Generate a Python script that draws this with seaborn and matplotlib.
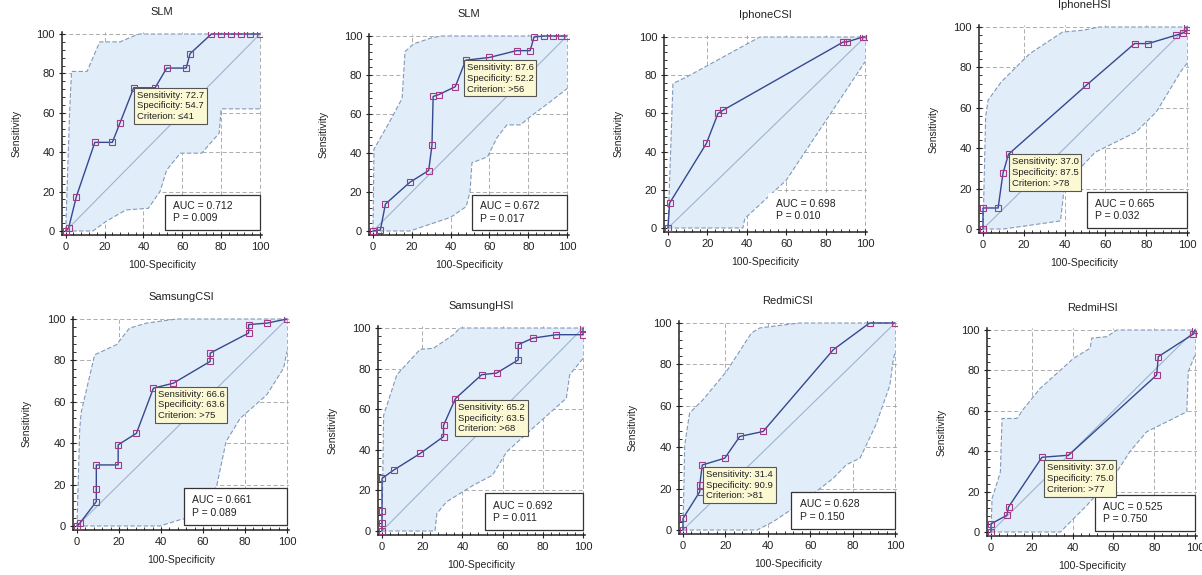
import numpy as np
import pandas as pd
import matplotlib
matplotlib.use("Agg")
import matplotlib.pyplot as plt
import seaborn as sns
from matplotlib.ticker import MultipleLocator
from matplotlib.patches import Rectangle

sns.set_style("white")
plt.rcParams['font.family'] = ['Liberation Sans', 'DejaVu Sans']

# ---------------- data ----------------
titles = ["SLM", "SLM", "IphoneCSI", "IphoneHSI",
          "SamsungCSI", "SamsungHSI", "RedmiCSI", "RedmiHSI"]

auc_values = ["0.712", "0.672", "0.698", "0.665", "0.661", "0.692", "0.628", "0.525"]
p_values = ["0.009", "0.017", "0.010", "0.032", "0.089", "0.011", "0.150", "0.750"]

# ROC curves (x = 100-Specificity, y = Sensitivity)
roc1_x = [0, 1.5, 5.5, 15, 24, 28, 35, 46, 52, 62, 64, 75, 80, 85, 90, 95, 100]
roc1_y = [0, 1.5, 17.5, 45, 45, 55, 72.7, 72.7, 82.7, 82.7, 90, 100, 100, 100, 100, 100, 100]
roc2_x = [0, 3.8, 6.4, 19, 28.7, 30.4, 31, 34, 42.4, 47.8, 60, 74, 81, 83, 88, 93, 97, 100]
roc2_y = [0, 0.5, 13.8, 25, 31, 44, 69, 70, 74, 87.6, 89, 92.5, 92.5, 99.5, 100, 100, 100, 100]
roc3_x = [0, 0.8, 19.5, 25.4, 28, 89, 90.7, 99, 100]
roc3_y = [0, 13, 44.3, 60, 61.7, 97.4, 97.4, 100, 100]
roc4_x = [0, 0, 7.4, 9.8, 12.5, 50.7, 74.3, 81, 94.8, 98, 100, 100]
roc4_y = [0, 10.4, 10.4, 27.6, 37, 71.2, 91.8, 91.8, 96, 97, 98.5, 100]
roc5_x = [0, 1.3, 9.2, 9.2, 9.2, 19.6, 19.6, 28.3, 36.4, 45.9, 63.4, 63.4, 81.7, 81.7, 90.4, 100]
roc5_y = [0, 1.3, 11.8, 18, 29.5, 29.5, 39.2, 44.8, 66.6, 69, 79.5, 83.5, 93.2, 97.3, 98, 100]
roc6_x = [0, 0, 0, 0, 5.8, 19, 30.6, 30.6, 36.5, 49.6, 57, 67.8, 67.8, 75, 86.8, 100, 100]
roc6_y = [0, 4, 10, 25.9, 30, 38.2, 46.5, 52, 65.2, 77, 77.8, 84.3, 91.8, 95, 96.7, 96.7, 100]
roc7_x = [0, 0, 7.9, 7.9, 9.1, 19.7, 26.8, 37.8, 70.9, 88, 100]
roc7_y = [0, 5.6, 18.5, 21.8, 31.4, 34.7, 45.2, 47.6, 87.1, 100, 100]
roc8_x = [0, 0, 7.8, 8.6, 25, 38, 81.2, 82, 99.2, 100]
roc8_y = [0, 4, 8.3, 12.4, 37, 38, 77.7, 86.8, 98, 100]

# Confidence bands
upper1_x = [0, 2, 3, 11, 17.5, 28, 35, 38, 100]
upper1_y = [0, 60, 81, 81, 96, 96, 99, 100, 100]
lower1_x = [0, 14, 21, 31, 42.5, 48.5, 52, 59, 70, 79, 80, 91, 100]
lower1_y = [0, 0, 5, 10.7, 11.5, 20, 31, 39.5, 39.5, 49.7, 62, 62, 62]
upper2_x = [0, 0.5, 8, 15, 16.5, 21, 30, 35, 100]
upper2_y = [0, 42, 55, 68, 92, 96, 99, 100, 100]
lower2_x = [0, 19, 28, 40, 48, 50, 51, 59, 64, 69, 76, 81, 91, 100]
lower2_y = [0, 0, 3, 7, 12.5, 20, 35, 38, 48, 54.4, 54.4, 58.6, 66, 73]
upper3_x = [0, 2.5, 6, 9.3, 46.6, 100]
upper3_y = [0, 75.6, 77.4, 79, 100, 100]
lower3_x = [0, 38, 39, 60, 100]
lower3_y = [0, 0, 5, 25, 87]
upper4_x = [0, 1.3, 2.5, 9, 22.9, 39, 49, 57, 100]
upper4_y = [0, 55.6, 63.8, 72.9, 86.8, 97.5, 98.4, 100, 100]
lower4_x = [0, 10, 38, 40, 55, 75, 85, 97, 100]
lower4_y = [0, 0, 4, 22, 38, 48, 58, 78, 82]
upper5_x = [0, 1.3, 2, 8.4, 18.8, 25, 33, 47.5, 100]
upper5_y = [0, 47, 55, 82.7, 87.6, 95.6, 98, 100, 100]
lower5_x = [0, 39.5, 49, 60, 66.6, 71, 77.7, 90.4, 98.4, 100]
lower5_y = [0, 0, 3, 5.3, 19.8, 40.8, 52, 63.4, 76.3, 84.4]
upper6_x = [0, 0.8, 7.4, 19, 25.6, 35.5, 38.8, 100]
upper6_y = [0, 57, 77, 89.5, 90, 96.7, 100, 100]
lower6_x = [0, 26.4, 27.3, 32, 45.5, 55, 62, 75, 91.7, 93.4, 100]
lower6_y = [0, 0, 8.6, 14.3, 22.6, 27.5, 39, 50.6, 65.4, 77, 85]
upper7_x = [0, 0.8, 3.1, 9.4, 20.5, 32.3, 36.2, 47, 55, 100]
upper7_y = [0, 41, 56.5, 62.9, 76.6, 95.2, 97.6, 99, 100, 100]
lower7_x = [0, 35, 42.5, 56.7, 70.9, 77, 83.5, 91, 97.6, 99, 100]
lower7_y = [0, 0, 4, 13.7, 25, 31.5, 34.7, 50.8, 70, 81, 86]
upper8_x = [0, 0.5, 4.6, 5.4, 12.7, 16, 24, 40.5, 48.6, 49.4, 56.8, 61.7, 100]
upper8_y = [0, 16.5, 29.7, 56.2, 56.2, 61, 71, 86, 91, 96, 96.7, 100, 100]
lower8_x = [0, 34, 47, 61.7, 68, 76.3, 96, 96.7, 100]
lower8_y = [0, 0, 13.2, 29.8, 39.7, 49.6, 59.5, 79.3, 87.6]

# Optimal criterion points and their labels (None = no box)
crit_x = [35, 46.7, None, 12.5, 37, 36.4, 9.4, 25.8]
crit_y = [72.7, 87.6, None, 37.0, 67.4, 64.6, 30.6, 35.5]
crit_sens = ["72.7", "87.6", None, "37.0", "66.6", "65.2", "31.4", "37.0"]
crit_spec = ["54.7", "52.2", None, "87.5", "63.6", "63.5", "90.9", "75.0"]
crit_crit = ["\u226441", ">56", None, ">78", ">75", ">68", ">81", ">77"]

rocs = [(roc1_x, roc1_y), (roc2_x, roc2_y), (roc3_x, roc3_y), (roc4_x, roc4_y),
        (roc5_x, roc5_y), (roc6_x, roc6_y), (roc7_x, roc7_y), (roc8_x, roc8_y)]
uppers = [(upper1_x, upper1_y), (upper2_x, upper2_y), (upper3_x, upper3_y), (upper4_x, upper4_y),
          (upper5_x, upper5_y), (upper6_x, upper6_y), (upper7_x, upper7_y), (upper8_x, upper8_y)]
lowers = [(lower1_x, lower1_y), (lower2_x, lower2_y), (lower3_x, lower3_y), (lower4_x, lower4_y),
          (lower5_x, lower5_y), (lower6_x, lower6_y), (lower7_x, lower7_y), (lower8_x, lower8_y)]

# ---------------- layout (pixel positions of data 0 / 100 per panel) ----------------
W, H = 1202, 575
panel_px = [(65.7, 260, 231, 34), (373, 567, 231, 36), (668, 865, 228, 37), (983, 1187, 229, 27),
            (77, 287, 526, 319), (382, 583, 531, 328), (683, 895, 530, 323), (991, 1195, 532, 330)]
LO, HI = -2.0, 101.0

FILL = '#e2edfa'
BAND = '#8299b8'
CURVE = '#34498f'
MARK = '#a23a86'
DIAG = '#9fb3cf'
GRID = '#a0a0a0'

fig = plt.figure(figsize=(W / 100, H / 100), dpi=100)
fig.patch.set_facecolor('white')

for i in range(8):
    x0, x100, y0, y100 = panel_px[i]
    sx = (x100 - x0) / 100.0
    sy = (y0 - y100) / 100.0
    lpx = x0 + LO * sx
    rpx = x0 + HI * sx
    bpx = y0 - LO * sy
    tpx = y0 - HI * sy
    ax = fig.add_axes([lpx / W, 1 - bpx / H, (rpx - lpx) / W, (bpx - tpx) / H])
    ax.set_xlim(LO, HI)
    ax.set_ylim(LO, HI)
    ax.set_facecolor('white')

    ux, uy = uppers[i]
    lx, ly = lowers[i]
    poly_x = list(ux) + [100] + list(lx)[::-1]
    poly_y = list(uy) + [100] + list(ly)[::-1]
    ax.fill(poly_x, poly_y, color=FILL, lw=0, zorder=1)
    ax.plot(ux, uy, ls=(0, (4, 2)), color=BAND, lw=0.8, zorder=2)
    ax.plot(lx, ly, ls=(0, (4, 2)), color=BAND, lw=0.8, zorder=2)
    ax.plot([0, 100], [0, 100], color=DIAG, lw=0.8, zorder=2)

    rx, ry = rocs[i]
    df = pd.DataFrame({"fpr": rx, "tpr": ry})
    sns.lineplot(data=df, x="fpr", y="tpr", sort=False, estimator=None, ax=ax,
                 color=CURVE, lw=1.0, marker='s', markersize=3.8,
                 markerfacecolor='none', markeredgecolor=MARK, markeredgewidth=0.8,
                 zorder=4)

    # grid
    for v in [20, 40, 60, 80, 100]:
        ax.axhline(v, color=GRID, lw=0.6, ls=(0, (5, 3)), zorder=0.5)
        ax.axvline(v, color=GRID, lw=0.6, ls=(0, (5, 3)), zorder=0.5)

    ax.xaxis.set_major_locator(MultipleLocator(20))
    ax.yaxis.set_major_locator(MultipleLocator(20))
    ax.xaxis.set_minor_locator(MultipleLocator(4))
    ax.yaxis.set_minor_locator(MultipleLocator(4))
    ax.tick_params(which='major', direction='inout', length=4, width=0.8,
                   labelsize=8, colors='#222222', pad=3, left=True, bottom=True)
    ax.tick_params(which='minor', direction='in', length=2.5, width=0.7, colors='#333333',
                   left=True, bottom=True)
    for s in ['top', 'right']:
        ax.spines[s].set_visible(False)
    for s in ['left', 'bottom']:
        ax.spines[s].set_color('#222222')
        ax.spines[s].set_linewidth(1.1)

    ax.set_title(titles[i], fontsize=8, pad=12, color='#222222')
    ax.set_xlabel("100-Specificity", fontsize=7.5, labelpad=6, color='#222222')
    ax.set_ylabel("Sensitivity", fontsize=7.5, labelpad=11, color='#222222')

    # AUC box
    edge = 'none' if i == 2 else '#333333'
    ax.add_patch(Rectangle((51, 0.5), 49, 18, facecolor='white', edgecolor=edge,
                           lw=0.9, zorder=6))
    ax.text(55, 9.5, f"AUC = {auc_values[i]}\nP = {p_values[i]}", fontsize=7.5,
            va='center', ha='left', color='#222222', linespacing=1.3, zorder=7)

    # criterion box
    if crit_x[i] is not None:
        txt = (f"Sensitivity: {crit_sens[i]}\nSpecificity: {crit_spec[i]}\n"
               f"Criterion: {crit_crit[i]}")
        ax.text(crit_x[i] + 1.5, crit_y[i] - 1.5, txt, fontsize=6.8, va='top', ha='left',
                color='#222222', linespacing=1.25, zorder=8,
                bbox=dict(boxstyle='square,pad=0.3', facecolor='#fbf8d4',
                          edgecolor='#555555', lw=0.8))

fig.savefig("out.png", dpi=100, facecolor='white')
